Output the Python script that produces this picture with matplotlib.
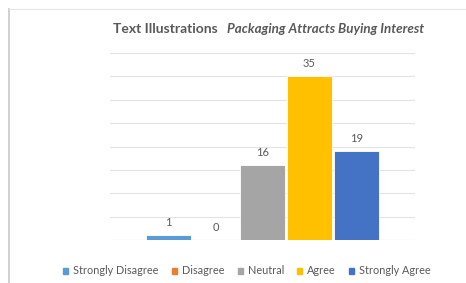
import matplotlib
matplotlib.use("Agg")
import matplotlib.pyplot as plt
from matplotlib.patches import Rectangle
from matplotlib.lines import Line2D

categories = ["Strongly Disagree", "Disagree", "Neutral", "Agree", "Strongly Agree"]
values = [1, 0, 16, 35, 19]
colors = ["#5B9BD5", "#ED7D31", "#A5A5A5", "#FFC000", "#4472C4"]

plt.rcParams['font.family'] = ['Lato', 'DejaVu Sans']

fig = plt.figure(figsize=(4.66, 2.83), dpi=100)
W, H = 466, 283
ax = fig.add_axes([110 / W, 1 - 240 / H, 305 / W, (240 - 53) / H])

slot = 47 / 305
width = 45 / 305
for i, (c, v, col) in enumerate(zip(categories, values, colors)):
    x = 0.5 + (i - 2) * slot
    ax.bar(x, v, width=width, color=col, edgecolor="white", linewidth=0.6, zorder=3)
    ax.text(x, v + 1.6, str(v), ha="center", va="bottom", fontsize=8, color="#595959")

ax.set_xlim(0, 1)
ax.set_ylim(0, 40)
ax.set_yticks(range(0, 41, 5))
ax.yaxis.grid(True, color="#E3E3E3", linewidth=0.8, zorder=0)
ax.set_xticks([])
ax.tick_params(left=False, labelleft=False)
for s in ax.spines.values():
    s.set_visible(False)
ax.axhline(0, color="#D9D9D9", linewidth=0.8, zorder=2)

# frame border
fig.add_artist(Line2D([9 / W, 9 / W], [0, 1 - 9 / H], color="#C8C8C8", linewidth=1.2))
fig.add_artist(Line2D([9 / W, 1], [1 - 9 / H, 1 - 9 / H], color="#E6E6E6", linewidth=0.8))

# title
fig.text(113 / W, 1 - 29 / H, "Text Illustrations", fontsize=10, fontweight="bold",
         color="#595959", ha="left", va="center")
fig.text(424 / W, 1 - 29 / H, "Packaging Attracts Buying Interest", fontsize=9.6,
         fontweight="bold", fontstyle="italic", color="#595959", ha="right", va="center")

handles = [Rectangle((0, 0), 1, 1, color=col) for col in colors]
fig.legend(handles, categories, loc="center", bbox_to_anchor=(247 / W, 1 - 271 / H),
           ncol=5, frameon=False, fontsize=7.8, handlelength=0.45, handleheight=0.45,
           handletextpad=0.45, columnspacing=1.25, labelcolor="#595959")

fig.savefig("out.png", dpi=100)
